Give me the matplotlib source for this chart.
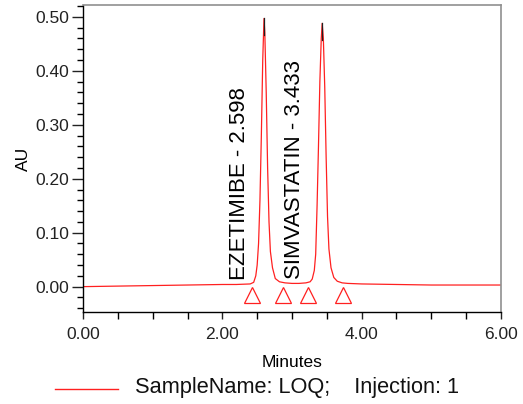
import matplotlib
matplotlib.use("Agg")
import matplotlib.pyplot as plt
from matplotlib.lines import Line2D
from matplotlib.ticker import MultipleLocator, FormatStrFormatter

plt.rcParams['font.family'] = ['Liberation Sans', 'DejaVu Sans']

# Chromatogram trace (minutes, AU)
times = [0.00, 0.50, 1.00, 1.50, 2.00, 2.20, 2.40, 2.45, 2.48, 2.50, 2.52, 2.54,
         2.56, 2.58, 2.598, 2.61, 2.63, 2.65, 2.67, 2.69, 2.72, 2.76, 2.82, 2.90,
         3.00, 3.10, 3.20, 3.26, 3.29, 3.32, 3.34, 3.36, 3.38, 3.40, 3.42, 3.433,
         3.45, 3.47, 3.49, 3.51, 3.53, 3.56, 3.60, 3.65, 3.72, 3.80, 4.00, 4.50,
         5.00, 5.50, 6.00]
au = [0.000, 0.001, 0.002, 0.003, 0.004, 0.004, 0.005, 0.008, 0.020, 0.040, 0.080, 0.160,
      0.280, 0.420, 0.497, 0.470, 0.360, 0.220, 0.120, 0.065, 0.035, 0.015, 0.009, 0.007,
      0.006, 0.006, 0.007, 0.009, 0.014, 0.030, 0.060, 0.150, 0.260, 0.380, 0.460, 0.488,
      0.460, 0.370, 0.240, 0.130, 0.070, 0.035, 0.017, 0.010, 0.007, 0.006, 0.005, 0.004,
      0.003, 0.003, 0.003]

peak_names = ["EZETIMIBE", "SIMVASTATIN"]
peak_rt = [2.598, 3.433]
peak_height = [0.497, 0.488]
label_x = [2.25, 3.04]
label_y = [0.013, 0.015]

tri_times = [2.43, 2.87, 3.23, 3.73]
tri_au = [-0.015, -0.015, -0.015, -0.015]

legend_text = "SampleName: LOQ;    Injection: 1"

fig = plt.figure(figsize=(5.23, 4.04), dpi=100)
W, H = 523, 404
ax = fig.add_axes([83 / W, (H - 312) / H, 418 / W, (312 - 5) / H])

red = "#ff2020"
ax.plot(times, au, color=red, lw=0.9)
for rt, h in zip(peak_rt, peak_height):
    ax.plot([rt, rt], [h - 0.03, h], color="#202020", lw=0.9)
ax.plot(tri_times, tri_au, linestyle="none", marker="^", markersize=12,
        markerfacecolor="none", markeredgecolor=red, markeredgewidth=0.9)

for name, rt, x, y in zip(peak_names, peak_rt, label_x, label_y):
    ax.text(x, y, f"{name} - {rt:.3f}", rotation=90, ha="center", va="bottom",
            fontsize=16, color="black")

ax.set_xlim(0, 6)
ax.set_ylim(-0.047, 0.522)
ax.xaxis.set_major_locator(MultipleLocator(2))
ax.xaxis.set_minor_locator(MultipleLocator(0.5))
ax.xaxis.set_major_formatter(FormatStrFormatter("%.2f"))
ax.yaxis.set_major_locator(MultipleLocator(0.1))
ax.yaxis.set_minor_locator(MultipleLocator(0.02))
ax.yaxis.set_major_formatter(FormatStrFormatter("%.2f"))
ax.tick_params(axis="both", which="major", labelsize=12.5, colors="#222222")
ax.tick_params(axis="x", which="major", length=5, width=1, pad=6)
ax.tick_params(axis="x", which="minor", length=5, width=1)
ax.tick_params(axis="y", which="major", length=8, width=1, pad=2)
ax.tick_params(axis="y", which="minor", length=4, width=1)
for s in ["top", "right"]:
    ax.spines[s].set_color("#909090")
    ax.spines[s].set_linewidth(1.2)
for s in ["left", "bottom"]:
    ax.spines[s].set_color("black")
    ax.spines[s].set_linewidth(1)

ax.set_xlabel("Minutes", fontsize=12.5, labelpad=9)
ax.set_ylabel("AU", fontsize=12.5, labelpad=3)

fig.add_artist(Line2D([55 / W, 118 / W], [(H - 389) / H] * 2, color=red, lw=1,
                      transform=fig.transFigure))
fig.text(135 / W, (H - 388) / H, legend_text, fontsize=15.7, va="center", ha="left",
         color="#111111")

fig.savefig("out.png", dpi=100)
